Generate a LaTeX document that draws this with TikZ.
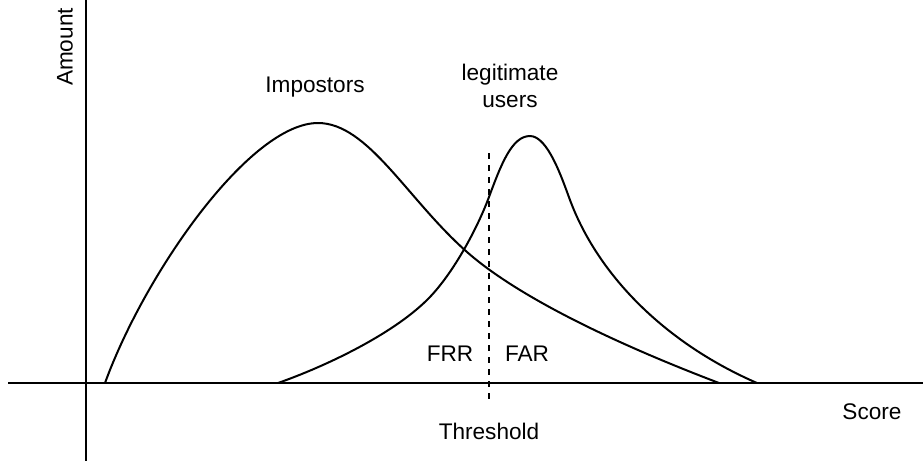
\documentclass[tikz,border=0pt]{standalone}
\usepackage{fontspec}
\setmainfont{Liberation Sans}

\tikzset{
  curve/.style={line width=1pt},
  axis/.style={line width=0.9pt},
  lbl/.style={font=\fontsize{11.3}{13.5}\selectfont, inner sep=0pt, align=center}
}

\begin{document}
\begin{tikzpicture}[x=0.5pt, y=-0.5pt]
    \useasboundingbox (0,0) rectangle (923,463);
    % Draw the axes
    \draw[axis] (8,383) -- (923,383);
    \draw[axis] (86,0) -- (86,461);
    \node[lbl, rotate=90] (amount) at (65,47) {Amount};
    \node[lbl] (score) at (872,412) {Score};
    % Draw the impostors curve
    \draw[curve] (105,383) .. controls (145,273) and (250,123) .. (318,123)
        .. controls (368,123) and (407,199) .. (467,252)
        .. controls (534.5,311.4) and (672,365) .. (719,383);
    \node[lbl] (impostors) at (315,87) {Impostors};
    % Draw the legitimate users curve
    \draw[curve] (278,383) .. controls (325,366.5) and (391.5,335) .. (427,300)
        .. controls (451.9,275.5) and (476.75,229.9) .. (489,197)
        .. controls (501.25,164) and (512,136) .. (530,136)
        .. controls (548,136) and (562.3,179.3) .. (570,200)
        .. controls (598,275.2) and (665,343) .. (757,383);
    \node[lbl] (legit) at (510,86) {legitimate\\users};
    % Draw the threshold
    \draw[axis, dashed] (489,153) -- (489,402);
    \node[lbl] (threshold) at (489,431) {Threshold};
    \node[lbl] (frr) at (450,354) {FRR};
    \node[lbl] (far) at (527,354) {FAR};
\end{tikzpicture}
\end{document}
